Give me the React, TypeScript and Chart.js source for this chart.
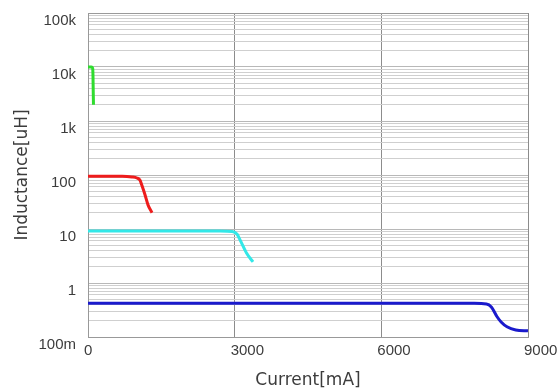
import React, { useEffect, useRef } from "react";
import { Chart, registerables } from "chart.js";

Chart.register(...registerables);

const xTicks = [0, 3000, 6000, 9000];
const decades = [0.1, 1, 10, 100, 1000, 10000, 100000];
const decadeLabels = ["100m", "1", "10", "100", "1k", "10k", "100k"];
const mantissas = [1, 2, 3, 4, 5, 6, 7, 8, 9];

const greenX = [0, 70, 95, 102, 106, 112];
const greenY = [10000, 10000, 9500, 7000, 4000, 2000];

const redX = [0, 700, 900, 1000, 1064, 1100, 1166, 1227, 1309];
const redY = [95, 95, 92, 88, 80, 65, 43, 28, 20];

const cyanX = [0, 2700, 2950, 3050, 3110, 3245, 3375];
const cyanY = [9.2, 9.2, 9.0, 8.0, 6.3, 3.55, 2.45];

const blueX = [0, 7900, 8150, 8250, 8364, 8450, 8570, 8750, 9000];
const blueY = [0.42, 0.42, 0.41, 0.36, 0.24, 0.19, 0.155, 0.135, 0.13];

const pts = (xs: number[], ys: number[]) => xs.map((x, i) => ({ x, y: ys[i] }));

export default function App() {
  const ref = useRef<HTMLCanvasElement>(null);
  useEffect(() => {
    if (!ref.current) return;
    const yTickValues: { value: number; major: boolean }[] = [];
    decades.forEach((d, i) => {
      if (i === decades.length - 1) {
        yTickValues.push({ value: d, major: true });
        return;
      }
      mantissas.forEach((m) => {
        yTickValues.push({ value: +(d * m).toPrecision(6), major: m === 1 });
      });
    });
    const textColor = "#3c3c3c";
    const font = { family: "'Liberation Sans', Arial, sans-serif", size: 15 };
    const titleFont = { family: "'DejaVu Sans', sans-serif", size: 17 };
    const mk = (label: string, data: any[], color: string) => ({
      label,
      data,
      borderColor: color,
      backgroundColor: color,
      borderWidth: 3,
      pointRadius: 0,
      tension: 0.4,
      cubicInterpolationMode: "monotone" as const,
      fill: false,
    });
    const chart = new Chart(ref.current, {
      type: "line",
      data: {
        datasets: [
          mk("green", pts(greenX, greenY), "#2fdc2f"),
          mk("red", pts(redX, redY), "#ee1c1c"),
          mk("cyan", pts(cyanX, cyanY), "#33e8e8"),
          mk("blue", pts(blueX, blueY), "#1a1acc"),
        ],
      },
      options: {
        responsive: false,
        animation: false,
        layout: { padding: { top: 13, right: 30, left: 0, bottom: 0 } },
        plugins: { legend: { display: false }, tooltip: { enabled: false } },
        scales: {
          x: {
            type: "linear",
            min: 0,
            max: 9000,
            afterBuildTicks: (scale: any) => {
              scale.ticks = xTicks.map((v) => ({ value: v }));
            },
            afterFit: (scale: any) => {
              scale.height = 53;
              scale.paddingLeft = 0;
              scale.paddingRight = 0;
            },
            ticks: {
              autoSkip: false,
              maxRotation: 0,
              align: "start",
              labelOffset: -4,
              padding: 5,
              color: textColor,
              font,
              callback: (v: any) => String(v),
            },
            grid: { color: "#8c8c8c", drawTicks: false, lineWidth: 1 },
            border: { color: "#999999" },
            title: {
              display: true,
              text: "Current[mA]",
              color: textColor,
              font: titleFont,
              padding: { top: 0, bottom: -1 },
            },
          },
          y: {
            type: "logarithmic",
            min: 0.1,
            max: 100000,
            afterBuildTicks: (scale: any) => {
              scale.ticks = yTickValues.map((t) => ({ ...t }));
            },
            afterFit: (scale: any) => {
              scale.width = 88;
              scale.paddingTop = 0;
              scale.paddingBottom = 0;
            },
            ticks: {
              autoSkip: false,
              padding: 12,
              labelOffset: 8,
              color: textColor,
              font,
              callback: (v: any) => {
                const i = decades.findIndex((d) => Math.abs(d - Number(v)) < d * 1e-6);
                return i >= 0 ? decadeLabels[i] : "";
              },
            },
            grid: {
              drawTicks: false,
              lineWidth: 1,
              color: (ctx: any) =>
                ctx.tick && ctx.tick.value === 100000
                  ? "#9a9a9a"
                  : ctx.tick && ctx.tick.major
                  ? "#b8b8b8"
                  : "#cfcfcf",
            },
            border: { color: "#999999" },
            title: {
              display: true,
              text: "Inductance[uH]",
              color: textColor,
              font: titleFont,
              padding: { top: 12, bottom: 0 },
            },
          },
        },
      },
    });
    return () => chart.destroy();
  }, []);
  return (
    <div style={{ position: "absolute", left: 0, top: 0, width: 558, height: 390, background: "#fff" }}>
      <canvas ref={ref} width={558} height={390} />
    </div>
  );
}
